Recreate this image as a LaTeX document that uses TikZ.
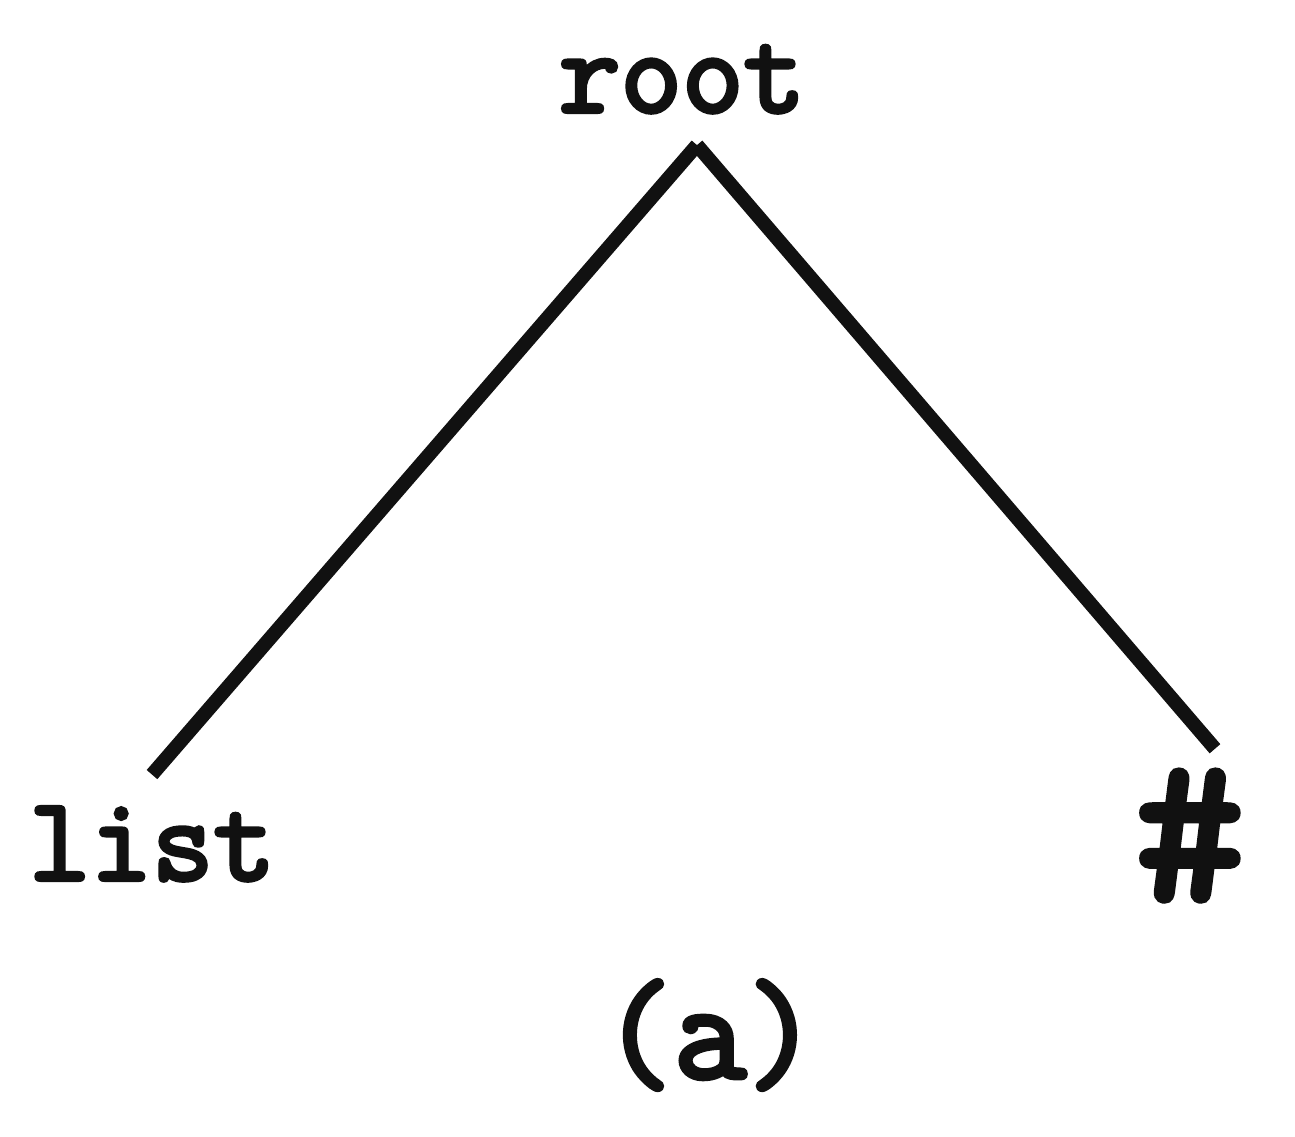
\documentclass[tikz,border=0pt]{standalone}
\usepackage{fontspec}
\newfontfamily\typeface[FakeBold=3.5]{Latin Modern Mono}
\usepackage{tikz}
\usetikzlibrary{positioning}
\usepackage{xcolor}
\definecolor{ink}{HTML}{111111}
\tikzset{
  every node/.style={font=\fontsize{34}{40}\selectfont\typeface,text=ink},
  word/.style={anchor=base},
  branch/.style={line width=4pt,draw=ink},
}

\begin{document}
\begin{tikzpicture}
\useasboundingbox (0,0) rectangle (12.95,-11.37);
\node[word] (root) at (6.82,-1.12) {root};
\node[word] (list) at (1.52,-8.80) {list};
\node[word,font=\fontsize{60}{66}\selectfont\typeface] (hash) at (11.90,-9.00) {\#};
\node[word,font=\fontsize{40}{46}\selectfont\typeface] (cap) at (7.10,-10.78) {(a)};
\draw[branch] ([xshift=1.5mm,yshift=-2mm]root.south) -- ([yshift=2mm]list.north);
\draw[branch] ([xshift=1.5mm,yshift=-2mm]root.south) -- ([xshift=2.5mm,yshift=1mm]hash.north);
\end{tikzpicture}
\end{document}
